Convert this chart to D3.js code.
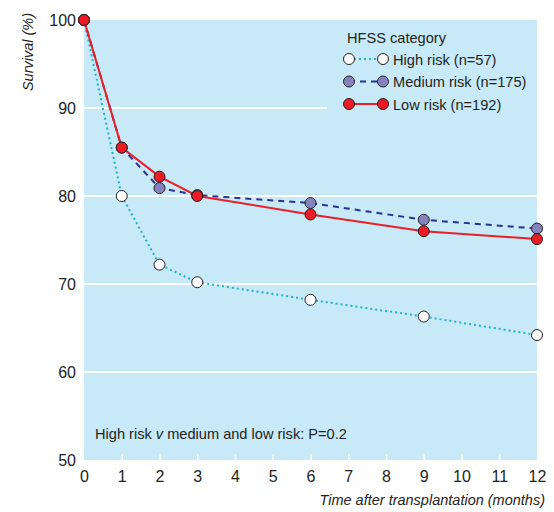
<!DOCTYPE html>
<html><head><meta charset="utf-8">
<script src="https://cdn.jsdelivr.net/npm/d3@7"></script>
<style>body{margin:0;background:#fff}svg{display:block}text{font-family:"Liberation Sans",Arial,Helvetica,sans-serif;fill:#231f20}</style>
</head><body><svg id="c" width="554" height="512"></svg>
<script>
const months = [0, 1, 2, 3, 6, 9, 12];
const highRisk = [100, 80.0, 72.2, 70.2, 68.2, 66.3, 64.2];
const mediumRisk = [100, 85.5, 80.9, 80.1, 79.2, 77.3, 76.3];
const lowRisk = [100, 85.5, 82.2, 80.0, 77.9, 76.0, 75.1];
const seriesNames = ["High risk (n=57)", "Medium risk (n=175)", "Low risk (n=192)"];
const xTicks = [0,1,2,3,4,5,6,7,8,9,10,11,12];
const yTicks = [50,60,70,80,90,100];

const svg = d3.select("#c");
const x = d3.scaleLinear().domain([0,12]).range([84,537]);
const y = d3.scaleLinear().domain([50,100]).range([460,20]);
const bg = "#c7e9f8";
svg.append("rect").attr("x",x(0)).attr("y",y(100)).attr("width",x(12)-x(0)).attr("height",y(50)-y(100)).attr("fill",bg);
// gridlines
[60,70,80].forEach(v=>svg.append("line").attr("x1",x(0)).attr("x2",x(12)).attr("y1",y(v)).attr("y2",y(v)).attr("stroke","#fff").attr("stroke-width",2));
svg.append("line").attr("x1",x(0)).attr("x2",327).attr("y1",y(90)).attr("y2",y(90)).attr("stroke","#fff").attr("stroke-width",2);

// x axis inward ticks
const xa = svg.append("g").attr("transform",`translate(0,${y(50)})`)
  .call(d3.axisBottom(x).tickValues(xTicks).tickSizeInner(-6).tickSizeOuter(0).tickPadding(11));
xa.select(".domain").remove();
xa.selectAll(".tick line").attr("stroke","#fff").attr("stroke-width",1.5);
xa.selectAll(".tick").filter(d=>d===0||d===12).select("line").remove();
xa.selectAll(".tick text").attr("font-size",16).attr("fill","#231f20");

const ya = svg.append("g").attr("transform",`translate(${x(0)},0)`)
  .call(d3.axisLeft(y).tickValues(yTicks).tickSize(0).tickPadding(8));
ya.select(".domain").remove();
ya.selectAll(".tick text").attr("font-size",16).attr("fill","#231f20");

svg.append("text").attr("transform","translate(33,52) rotate(-90)").attr("text-anchor","middle")
  .attr("font-size",14.5).attr("font-style","italic").text("Survival (%)");
svg.append("text").attr("x",545).attr("y",505).attr("text-anchor","end")
  .attr("font-size",14.5).attr("font-style","italic").text("Time after transplantation (months)");

const ann = svg.append("text").attr("x",95).attr("y",439).attr("font-size",14.6);
ann.append("tspan").text("High risk ");
ann.append("tspan").attr("font-style","italic").text("v");
ann.append("tspan").text(" medium and low risk: P=0.2");

const styles = [
  {vals: highRisk, stroke:"#1fb3c9", dash:"2,3", fill:"#ffffff", w:2},
  {vals: mediumRisk, stroke:"#2a3190", dash:"6,5", fill:"#8582c0", w:2},
  {vals: lowRisk, stroke:"#e8202a", dash:null, fill:"#ed1c24", w:2}
];
const line = d3.line().x((d,i)=>x(months[i])).y(d=>y(d));
styles.forEach(s=>{
  svg.append("path").datum(s.vals).attr("d",line).attr("fill","none").attr("stroke",s.stroke)
    .attr("stroke-width",s.w).attr("stroke-dasharray",s.dash);
});
styles.forEach(s=>{
  svg.selectAll(null).data(s.vals).enter().append("circle")
    .attr("cx",(d,i)=>x(months[i])).attr("cy",d=>y(d)).attr("r",5.5)
    .attr("fill",s.fill).attr("stroke","#231f20").attr("stroke-width",1);
});

// legend
svg.append("text").attr("x",347).attr("y",43).attr("font-size",14.6).text("HFSS category");
styles.forEach((s,i)=>{
  const ly = 59 + i*22.5;
  svg.append("line").attr("x1",349).attr("x2",383).attr("y1",ly).attr("y2",ly)
    .attr("stroke",s.stroke).attr("stroke-width",2).attr("stroke-dasharray",s.dash);
  [349,383].forEach(cx=>svg.append("circle").attr("cx",cx).attr("cy",ly).attr("r",5.5)
    .attr("fill",s.fill).attr("stroke","#231f20").attr("stroke-width",1));
  svg.append("text").attr("x",393).attr("y",ly+5.5).attr("font-size",14.6).text(seriesNames[i]);
});
</script></body></html>
